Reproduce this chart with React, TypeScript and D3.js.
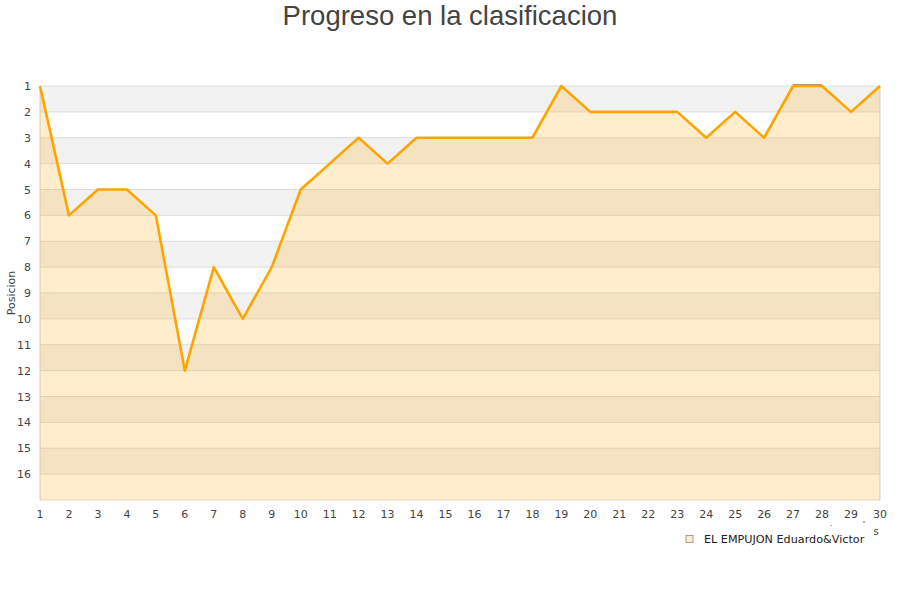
import React from "react";
import * as d3 from "d3";

const rounds: number[] = Array.from({ length: 30 }, (_, i) => i + 1);
const positions: number[] = [1, 6, 5, 5, 6, 12, 8, 10, 8, 5, 4, 3, 4, 3, 3, 3, 3, 3, 1, 2, 2, 2, 2, 3, 2, 3, 1, 1, 2, 1];
const yTicks: number[] = Array.from({ length: 16 }, (_, i) => i + 1);
const seriesName = "EL EMPUJON Eduardo&Victor";
const title = "Progreso en la clasificacion";
const yLabel = "Posicion";

export default function App() {
  const W = 900, H = 600;
  const left = 40, right = 880, top = 86, bottom = 500;
  const x = d3.scaleLinear().domain([1, 30]).range([left, right]);
  const y = d3.scaleLinear().domain([1, 17]).range([top, bottom]);
  const data = rounds.map((r, i) => ({ r, p: positions[i] }));
  const line = d3.line<{ r: number; p: number }>().x(d => x(d.r)).y(d => y(d.p));
  const area = d3.area<{ r: number; p: number }>().x(d => x(d.r)).y0(bottom).y1(d => y(d.p));
  const bands = d3.range(1, 17);
  return (
    <svg width={W} height={H} style={{ position: "absolute", left: 0, top: 0 }}>
      <rect x={0} y={0} width={W} height={H} fill="#fff" />
      {bands.map(b => (
        <rect key={b} x={left} y={y(b)} width={right - left} height={y(b + 1) - y(b)} fill={b % 2 === 1 ? "#f2f2f2" : "#ffffff"} />
      ))}
      {yTicks.map(t => (
        <line key={t} x1={left} x2={right} y1={y(t)} y2={y(t)} stroke="#dddddd" strokeWidth={1} />
      ))}
      <line x1={left} x2={right} y1={bottom} y2={bottom} stroke="#dddddd" />
      <line x1={left} x2={left} y1={top} y2={bottom} stroke="#d0d0d0" />
      <line x1={right} x2={right} y1={top} y2={bottom} stroke="#d0d0d0" />
      <path d={area(data) || ""} fill="#ffa500" fillOpacity={0.2} />
      <line x1={x(27)} x2={x(28)} y1={y(1) - 1.5} y2={y(1) - 1.5} stroke="#999" strokeWidth={1} />
      <path d={line(data) || ""} fill="none" stroke="#ffa500" strokeWidth={2.6} strokeLinejoin="round" />
      <g fontFamily="DejaVu Sans" fontSize={11} fill="#444">
        {yTicks.map(t => (
          <text key={t} x={31} y={y(t) + 4} textAnchor="end">{t}</text>
        ))}
        {rounds.map(r => (
          <text key={r} x={x(r)} y={518} textAnchor="middle">{r}</text>
        ))}
        <text transform={`translate(15,293) rotate(-90)`} textAnchor="middle" fontSize={11}>{yLabel}</text>
      </g>
      <text x={450} y={25} textAnchor="middle" fontFamily="Liberation Sans" fontSize={27.5} fill="#444">{title}</text>
      <rect x={686} y={535.5} width={7} height={7} fill="#ffedcc" stroke="#888" strokeWidth={0.8} />
      <text x={704} y={543} fontFamily="DejaVu Sans" fontSize={11.2} fill="#222">{seriesName}</text>
      <rect x={830.5} y={525} width={1} height={1} fill="#666" />
      <rect x={863.5} y={521} width={1} height={2} fill="#666" />
      <text x={876} y={535} fontFamily="DejaVu Sans" fontSize={10} fill="#444" textAnchor="middle">s</text>
    </svg>
  );
}
